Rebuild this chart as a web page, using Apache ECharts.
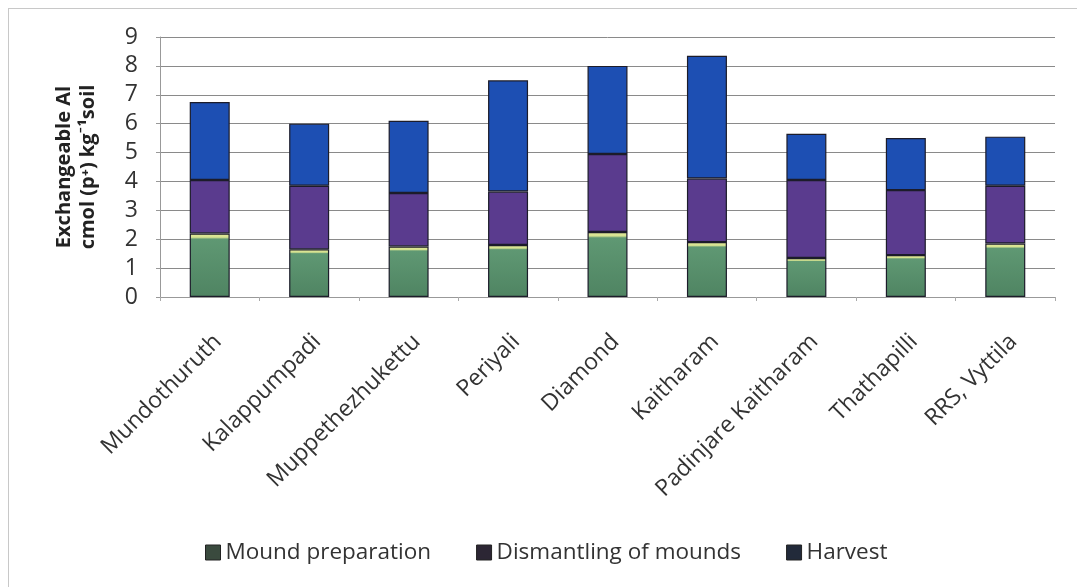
<!DOCTYPE html>
<html>
<head>
<meta charset="utf-8">
<script src="https://cdn.jsdelivr.net/npm/echarts@6/dist/echarts.min.js"></script>
<style>
  html, body { margin: 0; padding: 0; background: #fff; overflow: hidden; }
  #frame {
    position: absolute; left: 8px; top: 8px; width: 1120px; height: 640px;
    border: 1px solid #c8c8c8; box-sizing: border-box;
  }
  #chart { position: absolute; left: 0; top: 0; width: 1077px; height: 587px; }
</style>
</head>
<body>
<div id="frame"></div>
<div id="chart"></div>
<script>
// categories (sites)
const sites = ['Mundothuruth', 'Kalappumpadi', 'Muppethezhukettu', 'Periyali', 'Diamond',
  'Kaitharam', 'Padinjare Kaitharam', 'Thathapilli', 'RRS, Vyttila'];

// exchangeable Al, cmol(p+) kg-1 soil, per stage (stacked)
const moundPrep = [2.2, 1.65, 1.75, 1.8, 2.25, 1.9, 1.35, 1.45, 1.85];
const dismantling = [1.85, 2.2, 1.85, 1.85, 2.7, 2.2, 2.7, 2.25, 2.0];
const harvest = [2.7, 2.15, 2.5, 3.85, 3.05, 4.25, 1.6, 1.8, 1.7];

const yTicks = [0, 1, 2, 3, 4, 5, 6, 7, 8, 9];

const chart = echarts.init(document.getElementById('chart'));

const font = '"Open Sans", Lato, sans-serif';

function stackBar(name, data, color) {
  return {
    name: name,
    type: 'bar',
    stack: 'al',
    barWidth: 40,
    data: data,
    itemStyle: { color: color, borderColor: '#1c1c2a', borderWidth: 1.2 },
    emphasis: { disabled: true }
  };
}

// green segment has a pale yellow band on its top edge
const greenFill = new echarts.graphic.LinearGradient(0, 0, 0, 1, [
  { offset: 0, color: '#e3ea9c' },
  { offset: 0.06, color: '#d6e290' },
  { offset: 0.09, color: '#5f9873' },
  { offset: 1, color: '#4f8462' }
]);

chart.setOption({
  animation: false,
  textStyle: { fontFamily: font },
  grid: { left: 160, right: 22, top: 37, bottom: 290 },
  legend: {
    top: 536,
    left: 200,
    itemWidth: 15,
    itemHeight: 15,
    itemGap: 45,
    icon: 'rect',
    textStyle: { fontSize: 22.5, color: '#333', fontFamily: font },
    data: [
      { name: 'Mound preparation', itemStyle: { color: '#3a4a3e', borderColor: '#222', borderWidth: 1 } },
      { name: 'Dismantling of mounds', itemStyle: { color: '#2c2634', borderColor: '#222', borderWidth: 1 } },
      { name: 'Harvest', itemStyle: { color: '#222a3a', borderColor: '#222', borderWidth: 1 } }
    ]
  },
  xAxis: {
    type: 'category',
    data: sites,
    axisLine: { lineStyle: { color: '#999' } },
    axisTick: { show: true, alignWithLabel: false, length: 4, lineStyle: { color: '#aaa' } },
    axisLabel: { rotate: 45, fontSize: 23, color: '#333', interval: 0, margin: 33, verticalAlign: 'top' }
  },
  yAxis: {
    type: 'value',
    min: yTicks[0],
    max: yTicks[yTicks.length - 1],
    interval: 1,
    name: 'Exchangeable Al\ncmol (p⁺) kg⁻¹soil',
    nameLocation: 'middle',
    nameGap: 60,
    nameRotate: 90,
    nameTextStyle: { fontSize: 20, fontWeight: 'bold', color: '#222', lineHeight: 24 },
    axisLine: { show: true, lineStyle: { color: '#999' } },
    axisTick: { show: true, length: 4, inside: false, lineStyle: { color: '#999' } },
    axisLabel: { fontSize: 23, color: '#333', margin: 22 },
    splitLine: { lineStyle: { color: '#8a8a8a', width: 1 } }
  },
  series: [
    stackBar('Mound preparation', moundPrep, greenFill),
    stackBar('Dismantling of mounds', dismantling, '#5a3b8e'),
    stackBar('Harvest', harvest, '#1d4fb3')
  ]
});
</script>
</body>
</html>
